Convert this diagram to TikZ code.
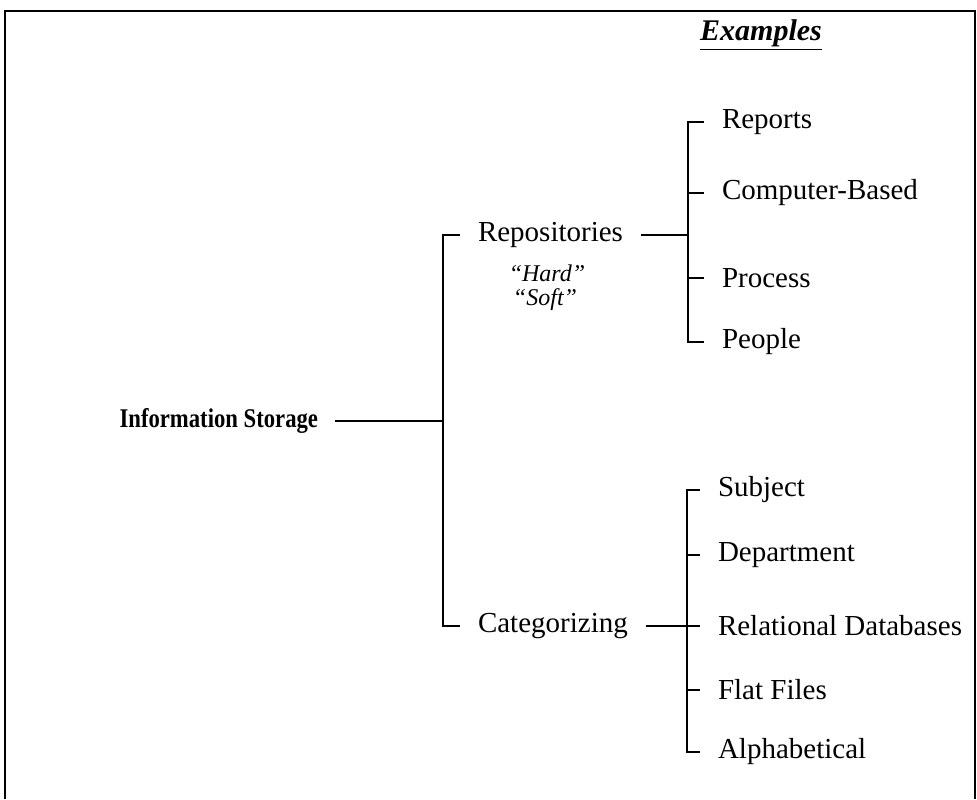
\documentclass[tikz,border=0pt]{standalone}
\usepackage{fontspec}
\setmainfont{Liberation Serif}
\newfontfamily\rootfont[FakeStretch=0.84]{Liberation Serif Bold}
\begin{document}
\begin{tikzpicture}[
    x=0.5pt,y=-0.5pt,
    branch/.style={line width=1.3pt},
    item/.style={anchor=west,inner sep=0pt,outer sep=9pt,font=\fontsize{14.5}{17}\selectfont},
    rootbox/.style={anchor=east,inner sep=0pt,outer sep=8.5pt,font=\fontsize{13.5}{16}\rootfont},
    note/.style={inner sep=0pt,font=\fontsize{12}{14}\selectfont\itshape},
  ]
  \useasboundingbox (0,0) rectangle (977,799);
  \draw[line width=1.4pt] (5,799) |- (975,11) -- (975,799);
  \node[font=\fontsize{15}{17}\selectfont\bfseries\itshape] (ex) at (761,35) {\underline{Examples}};
  % root and first bracket
  \node[rootbox] (store) at (335,421) {Information Storage};
  \coordinate (j0) at (443,421);
  \node[item] (rep) at (460,235) {Repositories};
  \node[item] (cat) at (460,626) {Categorizing};
  \node[note] (hard) at (547,273) {``Hard''};
  \node[note] (soft) at (545,300) {``Soft''};
  \draw[branch] (store.east) -- (j0);
  \draw[branch] (rep.west) -| (j0) |- (cat.west);
  % repositories examples
  \coordinate (j1) at (688,235);
  \node[item] (reports) at (704,122) {Reports};
  \node[item] (computer) at (704,193) {Computer-Based};
  \node[item] (process) at (704,278) {Process};
  \node[item] (people) at (704,342) {People};
  \draw[branch] (rep.east) -- (j1);
  \draw[branch] (reports.west) -| (j1) |- (people.west);
  \draw[branch] (computer.west) -- (computer.west -| j1);
  \draw[branch] (process.west) -- (process.west -| j1);
  % categorizing examples
  \coordinate (j2) at (687,626);
  \node[item] (subject) at (700,490) {Subject};
  \node[item] (dept) at (700,555) {Department};
  \node[item] (rel) at (700,626) {Relational Databases};
  \node[item] (flat) at (700,690) {Flat Files};
  \node[item] (alpha) at (700,752) {Alphabetical};
  \draw[branch] (cat.east) -- (j2);
  \draw[branch] (subject.west) -| (j2) |- (alpha.west);
  \draw[branch] (dept.west) -- (dept.west -| j2);
  \draw[branch] (rel.west) -- (rel.west -| j2);
  \draw[branch] (flat.west) -- (flat.west -| j2);
\end{tikzpicture}
\end{document}
